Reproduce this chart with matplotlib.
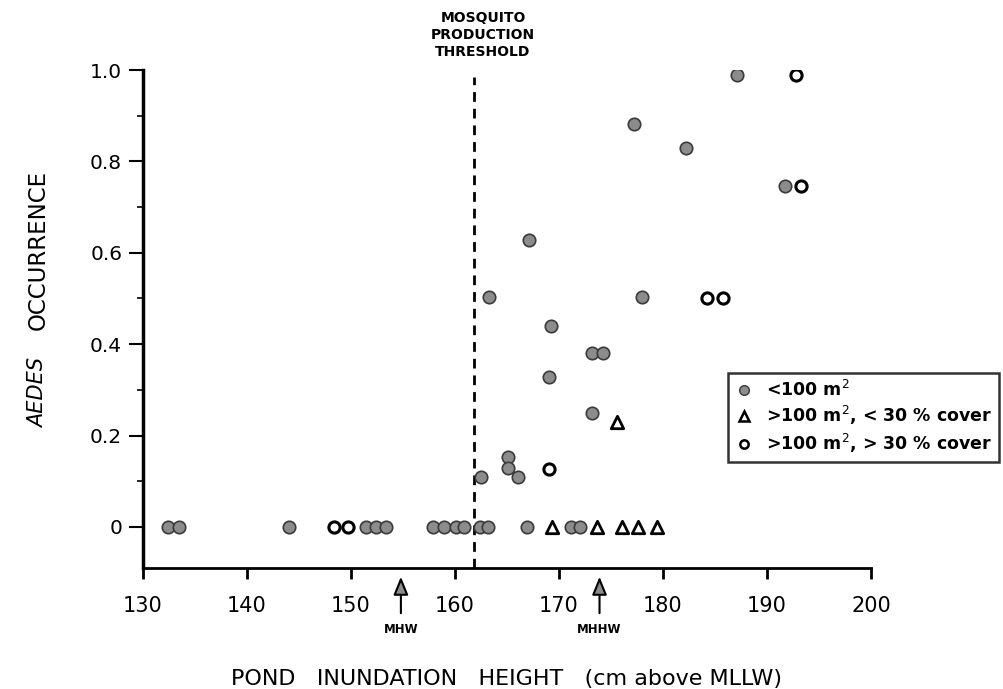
import matplotlib
matplotlib.use('Agg')
import matplotlib.pyplot as plt
from matplotlib.lines import Line2D

# pond inundation height (cm above MLLW) and Aedes occurrence
small_x = [132.4, 133.5, 144.0, 151.4, 152.4, 153.4, 157.9, 158.9, 160.1, 160.9,
           162.4, 163.2, 166.9, 171.2, 172.0,
           162.5, 165.1, 165.1, 166.1, 173.2, 169.0, 173.2, 174.2, 169.2,
           163.3, 178.0, 167.1, 191.7, 182.2, 177.2, 187.1]
small_y = [0, 0, 0, 0, 0, 0, 0, 0, 0, 0,
           0, 0, 0, 0, 0,
           0.11, 0.153, 0.129, 0.109, 0.249, 0.328, 0.38, 0.38, 0.44,
           0.503, 0.503, 0.628, 0.746, 0.83, 0.882, 0.99]

lowcov_x = [169.3, 173.7, 176.1, 177.6, 179.4, 175.6]
lowcov_y = [0, 0, 0, 0, 0, 0.23]

highcov_x = [148.4, 149.7, 169.0, 184.2, 185.8, 193.3, 192.8]
highcov_y = [0, 0, 0.127, 0.50, 0.50, 0.746, 0.99]

threshold = 161.8
mhw = 154.8
mhhw = 173.9

x_ticks = [130, 140, 150, 160, 170, 180, 190, 200]
y_ticks = [0, 0.2, 0.4, 0.6, 0.8, 1.0]
y_ticklabels = ['0', '0.2', '0.4', '0.6', '0.8', '1.0']

fig = plt.figure(figsize=(10.04, 6.89), dpi=100)
ax = fig.add_axes([0.1424, 0.1756, 0.7251, 0.7228])

ax.scatter(small_x, small_y, s=80, c='#8c8c8c', edgecolors='#3a3a3a', linewidths=1.2, zorder=3)
ax.scatter(lowcov_x, lowcov_y, s=80, marker='^', facecolors='white', edgecolors='black', linewidths=2, zorder=3)
ax.scatter(highcov_x, highcov_y, s=65, facecolors='white', edgecolors='black', linewidths=2.2, zorder=3)

# mosquito production threshold
ax.plot([threshold, threshold], [-0.09, 0.985], ls=(0, (3.5, 2.5)), color='black', lw=2)
ax.text(threshold + 0.9, 1.077, 'MOSQUITO\nPRODUCTION\nTHRESHOLD', ha='center', va='center',
        fontsize=10, fontweight='bold', fontstretch='normal', family='DejaVu Sans', linespacing=1.25)

ax.set_xlim(130, 200)
ax.set_ylim(-0.09, 1.0)
ax.spines['top'].set_visible(False)
ax.spines['right'].set_visible(False)
ax.spines['left'].set_linewidth(2.5)
ax.spines['bottom'].set_linewidth(2)

ax.set_xticks(x_ticks)
ax.set_xticklabels([str(t) for t in x_ticks], fontsize=15)
ax.set_yticks(y_ticks)
ax.set_yticklabels(y_ticklabels, fontsize=14.5)
ax.set_yticks([0.1, 0.3, 0.5, 0.7, 0.9], minor=True)
ax.tick_params(axis='x', direction='out', length=8, width=2, pad=12)
ax.tick_params(axis='y', which='major', direction='out', length=10, width=1.5, pad=5)
ax.tick_params(axis='y', which='minor', direction='out', length=4, width=1.2)

# tidal markers
for xv, lab in [(mhw, 'MHW'), (mhhw, 'MHHW')]:
    ax.annotate('', xy=(xv, -0.103), xytext=(xv, -0.195),
                arrowprops=dict(arrowstyle='-|>,head_length=1.1,head_width=0.45',
                                fc='#8c8c8c', ec='black', lw=1.5),
                annotation_clip=False)
    ax.text(xv, -0.225, lab, ha='center', va='center', fontsize=8.5, fontweight='bold',
            fontstretch='normal', family='DejaVu Sans', clip_on=False)

ax.set_xlabel('POND   INUNDATION   HEIGHT   (cm above MLLW)', fontsize=16, labelpad=38)
fig.text(0.038, 1 - 393 / 689, 'AEDES', rotation=90, ha='center', va='center', fontsize=15, style='italic')
fig.text(0.038, 1 - 250 / 689, 'OCCURRENCE', rotation=90, ha='center', va='center', fontsize=16.5)

handles = [
    Line2D([], [], ls='none', marker='o', ms=7, mfc='#8c8c8c', mec='#3a3a3a'),
    Line2D([], [], ls='none', marker='^', ms=7, mfc='white', mec='black', mew=1.8),
    Line2D([], [], ls='none', marker='o', ms=6, mfc='white', mec='black', mew=1.8),
]
labels = ['<100 m$^{2}$', '>100 m$^{2}$, < 30 % cover', '>100 m$^{2}$, > 30 % cover']
leg = fig.legend(handles, labels, loc='upper left', bbox_to_anchor=(728 / 1004, 1 - 373 / 689),
                 borderaxespad=0, prop={'size': 12.5, 'weight': 'bold', 'stretch': 'normal',
                                        'family': 'DejaVu Sans'},
                 frameon=True, fancybox=False,
                 edgecolor='black', handletextpad=0.8, borderpad=0.4, labelspacing=0.25,
                 handlelength=1.0)
leg.get_frame().set_linewidth(1.8)

fig.savefig('out.png', dpi=100)
